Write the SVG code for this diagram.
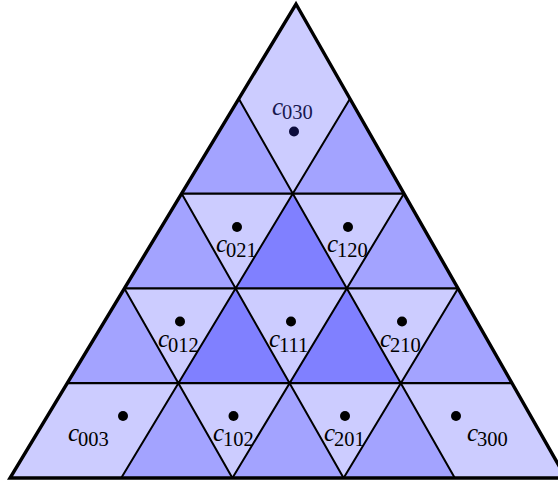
<svg xmlns="http://www.w3.org/2000/svg" width="558" height="487" viewBox="0 0 558 487">
<style>
.l{fill:#ccccff}
.m{fill:#a3a3ff}
.d{fill:#8080ff}
.dot{fill:#000}
.c{font-family:"Liberation Serif",serif;font-style:italic;font-size:25px;fill:#000}
.s{font-family:"Liberation Serif",serif;font-style:normal;font-size:20.5px}
.top .c{fill:#181850}
.top .dot{fill:#0c0c3c}
.ln{fill:none;stroke:#000;stroke-width:2}
.hz{fill:none;stroke:#000;stroke-width:2.3}
.ol{fill:none;stroke:#000;stroke-width:3.4;stroke-linejoin:miter}
</style>
<g id="fills">
<polygon class="m" points="121.2,478 232.4,478 178.4,383.2"/>
<polygon class="m" points="232.4,478 343.6,478 289.6,383.2"/>
<polygon class="m" points="343.6,478 454.8,478 400.8,383.2"/>
<polygon class="m" points="67.2,383.2 178.4,383.2 124.4,288.4"/>
<polygon class="d" points="178.4,383.2 289.6,383.2 235.6,288.4"/>
<polygon class="d" points="289.6,383.2 400.8,383.2 346.8,288.4"/>
<polygon class="m" points="400.8,383.2 512,383.2 458,288.4"/>
<polygon class="m" points="124.4,288.4 235.6,288.4 181.6,193.6"/>
<polygon class="d" points="235.6,288.4 346.8,288.4 292.8,193.6"/>
<polygon class="m" points="346.8,288.4 458,288.4 404,193.6"/>
<polygon class="m" points="181.6,193.6 292.8,193.6 238.8,98.8"/>
<polygon class="m" points="292.8,193.6 404,193.6 350,98.8"/>
</g>
<g id="c030" class="top">
<polygon class="l" points="292.8,193.6 350,98.8 296,4 238.8,98.8"/>
<circle class="dot" cx="294" cy="131.5" r="5"/>
<text class="c" x="272" y="115">c<tspan class="s" x="282" y="118.5">030</tspan></text>
</g>
<g id="c021">
<polygon class="l" points="235.6,288.4 181.6,193.6 292.8,193.6"/>
<circle class="dot" cx="237" cy="227" r="5"/>
<text class="c" x="216" y="252">c<tspan class="s" x="226" y="257">021</tspan></text>
</g>
<g id="c120">
<polygon class="l" points="346.8,288.4 292.8,193.6 404,193.6"/>
<circle class="dot" cx="348" cy="227" r="5"/>
<text class="c" x="327" y="252">c<tspan class="s" x="337" y="257">120</tspan></text>
</g>
<g id="c012">
<polygon class="l" points="178.4,383.2 124.4,288.4 235.6,288.4"/>
<circle class="dot" cx="180" cy="321.5" r="5"/>
<text class="c" x="158" y="346.5">c<tspan class="s" x="168" y="351.5">012</tspan></text>
</g>
<g id="c111">
<polygon class="l" points="289.6,383.2 235.6,288.4 346.8,288.4"/>
<circle class="dot" cx="291" cy="321.5" r="5"/>
<text class="c" x="269" y="346.5">c<tspan class="s" x="279" y="351.5">111</tspan></text>
</g>
<g id="c210">
<polygon class="l" points="400.8,383.2 346.8,288.4 458,288.4"/>
<circle class="dot" cx="402" cy="321.5" r="5"/>
<text class="c" x="380" y="346.5">c<tspan class="s" x="390" y="351.5">210</tspan></text>
</g>
<g id="c003">
<polygon class="l" points="10,478 121.2,478 178.4,383.2 67.2,383.2"/>
<circle class="dot" cx="123" cy="416" r="5"/>
<text class="c" x="68" y="441">c<tspan class="s" x="78" y="446">003</tspan></text>
</g>
<g id="c102">
<polygon class="l" points="232.4,478 178.4,383.2 289.6,383.2"/>
<circle class="dot" cx="233.5" cy="416" r="5"/>
<text class="c" x="213" y="441">c<tspan class="s" x="223" y="446">102</tspan></text>
</g>
<g id="c201">
<polygon class="l" points="343.6,478 289.6,383.2 400.8,383.2"/>
<circle class="dot" cx="345" cy="416" r="5"/>
<text class="c" x="324" y="441">c<tspan class="s" x="334" y="446">201</tspan></text>
</g>
<g id="c300">
<polygon class="l" points="454.8,478 566,478 512,383.2 400.8,383.2"/>
<circle class="dot" cx="456" cy="416" r="5"/>
<text class="c" x="467" y="441">c<tspan class="s" x="477" y="446">300</tspan></text>
</g>
<g id="connectors">
<path class="hz" d="M67.2,383.2H512M124.4,288.4H458M181.6,193.6H404"/>
<path class="ln" d="M121.2,478L350,98.8M232.4,478L404,193.6M343.6,478L458,288.4M232.4,478L124.4,288.4M343.6,478L181.6,193.6M454.8,478L238.8,98.8"/>
<polygon class="ol" points="10,478 566,478 296,4"/>
</g>
</svg>
